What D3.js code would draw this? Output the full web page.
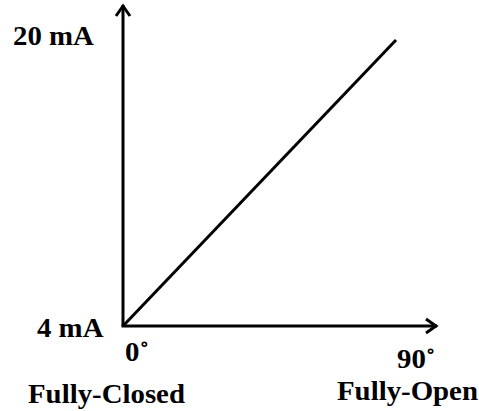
<!DOCTYPE html>
<html>
<head>
<meta charset="utf-8">
<script src="https://cdn.jsdelivr.net/npm/d3@7"></script>
<style>
  body { margin: 0; background: #fff; }
</style>
</head>
<body>
<svg id="chart" width="479" height="411"></svg>
<script>
// data
var angles = [0, 90]
var currents = [4, 20]
var yTickLabels = ["4 mA", "20 mA"]
var xTickLabels = ["0˚", "90˚"]
var xStateLabels = ["Fully-Closed", "Fully-Open"]

var svg = d3.select("#chart")
var font = "'Liberation Serif', 'Times New Roman', Times, serif"

var xScale = d3.scaleLinear().domain([0, 90]).range([123, 396])
var yScale = d3.scaleLinear().domain([4, 20]).range([326, 40])

// axes with open arrow heads
var xEnd = xScale.invert(437)
var yEnd = yScale.invert(5)

svg.append("line")
  .attr("x1", xScale(0)).attr("y1", yScale(4))
  .attr("x2", xScale(0)).attr("y2", yScale(yEnd))
  .attr("stroke", "#000").attr("stroke-width", 3)
svg.append("line")
  .attr("x1", xScale(0) - 1.5).attr("y1", yScale(4))
  .attr("x2", xScale(xEnd)).attr("y2", yScale(4))
  .attr("stroke", "#000").attr("stroke-width", 3)

// arrow heads
var ty = yScale(yEnd), tx = xScale(0)
svg.append("path")
  .attr("d", `M${tx - 7},${ty + 11} L${tx},${ty + 1} L${tx + 7},${ty + 11}`)
  .attr("fill", "none").attr("stroke", "#000").attr("stroke-width", 3)
var ax = xScale(xEnd), ay = yScale(4)
svg.append("path")
  .attr("d", `M${ax - 11},${ay - 7} L${ax - 1},${ay} L${ax - 11},${ay + 7}`)
  .attr("fill", "none").attr("stroke", "#000").attr("stroke-width", 3)

// the signal line
var line = d3.line()
  .x((d, i) => xScale(angles[i]))
  .y(d => yScale(d))
svg.append("path")
  .datum(currents)
  .attr("d", line)
  .attr("fill", "none")
  .attr("stroke", "#000")
  .attr("stroke-width", 3)

// text is a bit wider than plain Times in the reference
var stretch = 1.03
function label(sel) {
  sel.style("font-family", font)
    .style("font-weight", "bold")
    .style("font-size", "28px")
    .attr("fill", "#000")
}

// y labels
var yLabelX = [37, 13]
var yLabelDy = [11, 5]
svg.selectAll(".ylab")
  .data(currents)
  .enter()
  .append("text")
  .attr("class", "ylab")
  .attr("transform", (d, i) => `translate(${yLabelX[i]},${yScale(d) + yLabelDy[i]}) scale(${stretch},1)`)
  .call(label)
  .text((d, i) => yTickLabels[i])

// x labels
var xLabelDx = [2, 1]
var xLabelDy = [35, 42]
svg.selectAll(".xlab")
  .data(angles)
  .enter()
  .append("text")
  .attr("class", "xlab")
  .attr("transform", (d, i) => `translate(${xScale(d) + xLabelDx[i]},${yScale(4) + xLabelDy[i]}) scale(${stretch},1)`)
  .call(label)
  .text((d, i) => xTickLabels[i])

var stateX = [28, 337]
var stateY = [403, 400]
svg.selectAll(".state")
  .data(xStateLabels)
  .enter()
  .append("text")
  .attr("class", "state")
  .attr("transform", (d, i) => `translate(${stateX[i]},${stateY[i]}) scale(${stretch},1)`)
  .call(label)
  .text(d => d)
</script>
</body>
</html>
